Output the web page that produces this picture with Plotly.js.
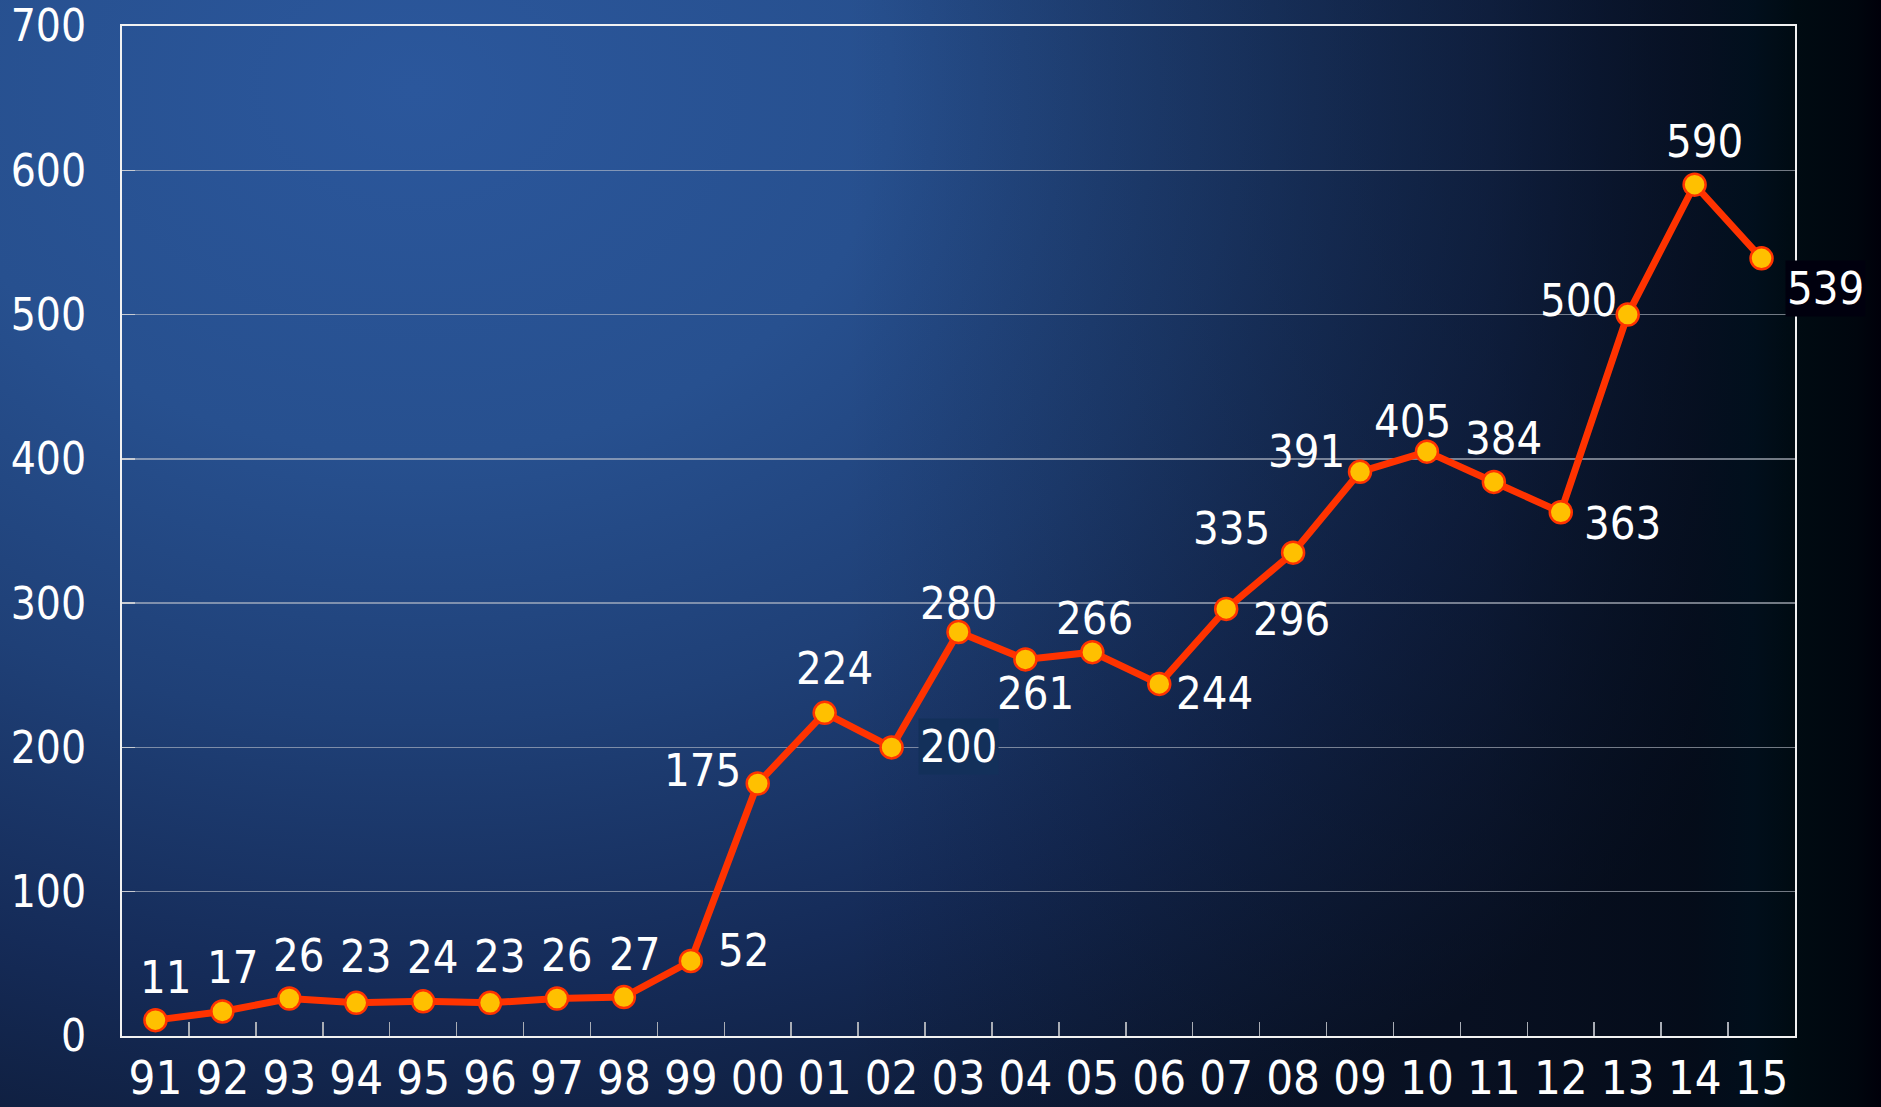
<!DOCTYPE html>
<html>
<head>
<meta charset="utf-8">
<script src="https://cdn.plot.ly/plotly-3.0.1.min.js"></script>
<style>
  html, body { margin: 0; padding: 0; width: 1881px; height: 1107px; overflow: hidden; background: #000; }
  #chart {
    width: 1881px; height: 1107px;
    background:
      linear-gradient(to right,
        rgba(4,8,18,0) 0%,
        rgba(4,8,18,0) 45%,
        rgba(4,8,18,0.22) 62%,
        rgba(4,8,18,0.45) 79%,
        rgba(2,8,18,0.72) 90%,
        rgba(0,14,26,0.93) 93.2%,
        rgba(0,11,18,1) 95.5%,
        rgba(0,6,14,1) 98.7%,
        rgba(0,0,10,1) 100%),
      radial-gradient(ellipse 85% 110% at 22% 8%,
        #2b579c 0%, #27508f 30%, #1f4077 52%, #152b58 74%, #0b162d 100%);
  }
</style>
</head>
<body>
<div id="chart"></div>
<script>
// ---- data ----
const years  = ['91','92','93','94','95','96','97','98','99','00','01','02','03','04','05','06','07','08','09','10','11','12','13','14','15'];
const values = [11, 17, 26, 23, 24, 23, 26, 27, 52, 175, 224, 200, 280, 261, 266, 244, 296, 335, 391, 405, 384, 363, 500, 590, 539];
const yTicks = [0, 100, 200, 300, 400, 500, 600, 700];

// ---- label placement (pixel offsets from each point: dx right, dy down) ----
const labelDx = [11, 11, 10, 10, 10, 10, 10, 11, 53, -55, 10, 67, 0, 10, 2, 55, 65, -62, -54, -14, 10, 62, -49, 10, 64];
const labelDy = [-43, -44, -43, -46, -44, -46, -43, -43, -10, -13, -44, -1, -29, 34, -34, 10, 11, -24, -20, -30, -43, 11, -14, -43, 30];
const labelBg = {11: '#13305a', 24: '#00000e'};

const FONT = '"DejaVu Sans Condensed", "DejaVu Sans", sans-serif';

const trace = {
  type: 'scatter',
  mode: 'lines+markers',
  x: years,
  y: values,
  line: { color: '#ff3300', width: 7 },
  marker: { size: 22, color: '#ffc000', line: { color: '#ff3300', width: 2.5 } },
  hoverinfo: 'skip',
  cliponaxis: false
};

// category axis: annotation x given as the category's index position
const annotations = values.map((v, i) => ({
  x: years.indexOf(years[i]), y: v, xref: 'x', yref: 'y',
  text: String(v),
  showarrow: false,
  xanchor: 'center', yanchor: 'middle',
  xshift: labelDx[i], yshift: -labelDy[i],
  font: { family: FONT, size: 45, color: '#ffffff' },
  bgcolor: labelBg[i] || 'rgba(0,0,0,0)',
  borderpad: 1
}));

const layout = {
  width: 1881, height: 1107,
  margin: { l: 122, r: 86, t: 26, b: 71 },
  paper_bgcolor: 'rgba(0,0,0,0)',
  plot_bgcolor: 'rgba(0,0,0,0)',
  showlegend: false,
  font: { family: FONT, color: '#ffffff' },
  xaxis: {
    type: 'category',
    range: [-0.5, years.length - 0.5],
    tickson: 'boundaries',
    ticks: 'inside', ticklen: 14, tickwidth: 1.5, tickcolor: '#a9adb5',
    showgrid: false,
    showline: true, linecolor: '#f2f2f2', linewidth: 2, mirror: true,
    tickfont: { family: FONT, size: 47, color: '#ffffff' },
    ticklabelstandoff: 0,
    ticklabeloverflow: 'allow',
    fixedrange: true, zeroline: false
  },
  yaxis: {
    range: [0, 700],
    tickvals: yTicks,
    ticktext: yTicks.map(String),
    ticks: 'inside', ticklen: 13, tickwidth: 1.5, tickcolor: '#c9ccd2',
    showgrid: true, gridcolor: 'rgba(190,195,205,0.6)', gridwidth: 1.5,
    showline: true, linecolor: '#f2f2f2', linewidth: 2, mirror: true,
    tickfont: { family: FONT, size: 44, color: '#ffffff' },
    ticklabelstandoff: 25,
    ticklabeloverflow: 'allow',
    zeroline: false, fixedrange: true
  },
  annotations: annotations
};

Plotly.newPlot('chart', [trace], layout, { staticPlot: true, displayModeBar: false });
</script>
</body>
</html>
